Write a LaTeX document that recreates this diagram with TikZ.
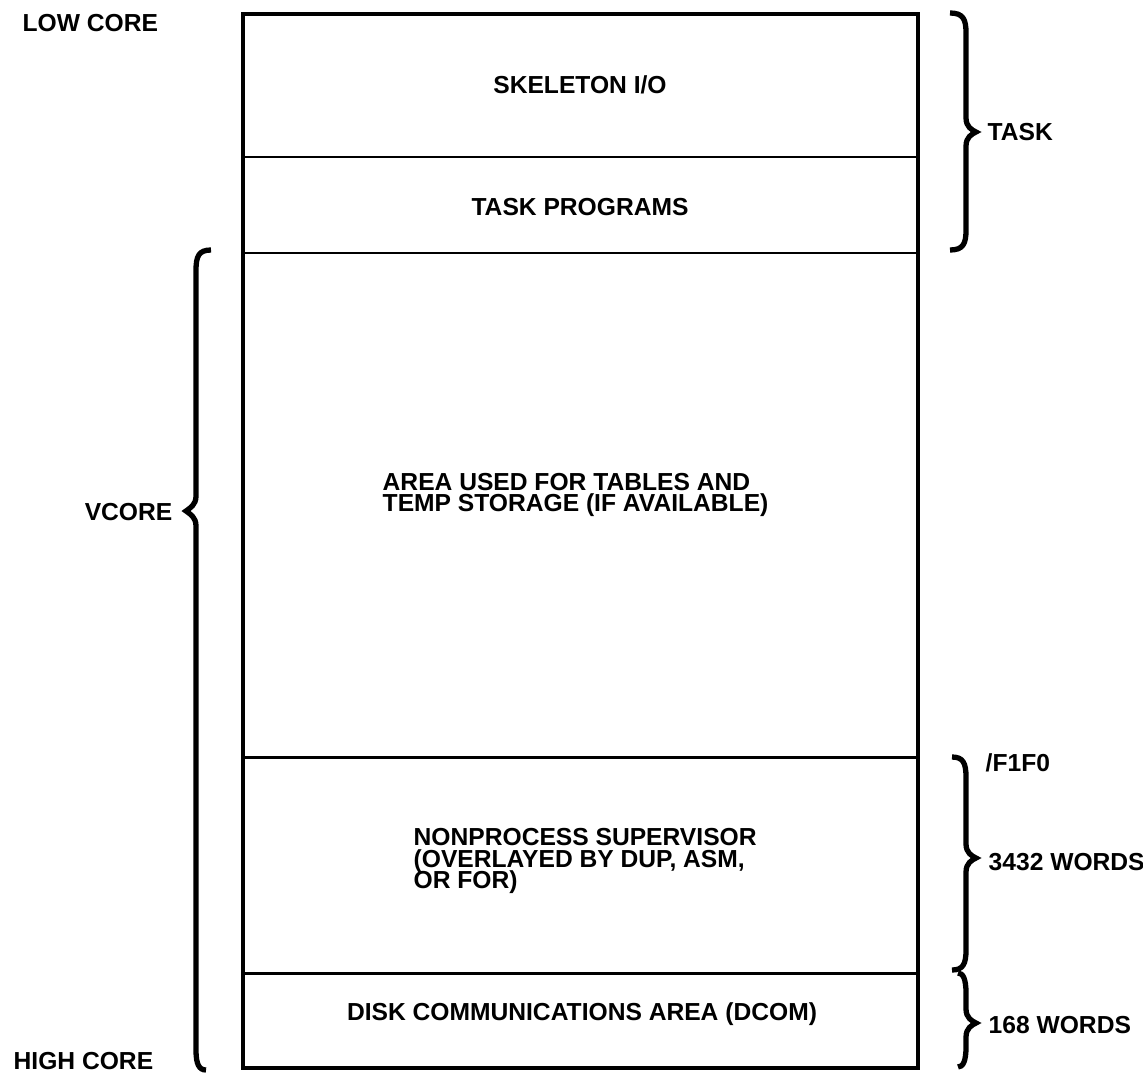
\documentclass[tikz,border=0pt]{standalone}
\usepackage{fontspec}
\setmainfont{Liberation Sans}
\tikzset{
  memtext/.style={inner sep=0pt, text height=5pt, text depth=0pt,
    font=\fontsize{7}{6}\selectfont\bfseries},
  memblock/.style={inner sep=0pt, align=left, anchor=north west,
    font=\fontsize{7}{6}\selectfont\bfseries},
  bracepen/.style={line width=1.5pt},
}
\begin{document}
\lineskiplimit=-10pt\relax
\begin{tikzpicture}[x=0.01cm, y=-0.01cm]
    \useasboundingbox (0,0) rectangle (1143,1073);

    %% =========================================================
    %% CORE MAP — left (243), right (918), top (14), bottom (1068)
    %% dividers at y = 157, 253, 757, 973
    %% =========================================================
    \draw[line width=1.1pt] (243,14) rectangle (918,1068);
    \foreach \dy in {157, 253, 757, 973}{
      \draw[line width=0.85pt] (243,\dy) -- (918,\dy);
    }

    \node[memtext] (skel)     at (580,85)   {SKELETON I/O};
    \node[memtext] (taskprog) at (580,207)  {TASK PROGRAMS};
    \node[memblock] (tables)  at (382,473)
      {AREA USED FOR TABLES AND\\TEMP STORAGE (IF AVAILABLE)};
    \node[memblock] (npsup)   at (413,828)
      {NONPROCESS SUPERVISOR\\(OVERLAYED BY DUP, ASM,\\OR FOR)};
    \node[memtext] (dcom)     at (582,1012) {DISK COMMUNICATIONS AREA (DCOM)};

    %% LEFT SIDE
    \node[memtext, anchor=west] (lowcore)  at (22,23)    {LOW CORE};
    \node[memtext, anchor=west] (highcore) at (13,1061)  {HIGH CORE};
    \node[memtext, anchor=east] (vcore)    at (173,512)  {VCORE};

    % vcore brace, tip off centre
    \draw[bracepen] (211,250) .. controls (199,250) and (196,256) .. (196,270)
      -- (196,496) .. controls (196,505) and (190,508) .. (186,511)
      .. controls (190,514) and (196,517) .. (196,526)
      -- (196,1050) .. controls (196,1064) and (199,1070) .. (206,1070);

    %% RIGHT SIDE
    \node[memtext, anchor=west] (task)    at (987,132)  {TASK};
    \node[memtext, anchor=west] (ftag)    at (985,763)  {/F1F0};
    \node[memtext, anchor=west] (npwords) at (988,862)  {3432 WORDS};
    \node[memtext, anchor=west] (dcwords) at (988,1025) {168 WORDS};

    % right braces: hook x / top / tip / bottom
    \foreach \xh/\ya/\yt/\yb in {950/13/132/250, 952/757/858/970, 958/973/1023/1067}{
      \draw[bracepen] (\xh,\ya) .. controls (963,\ya) and (966,\ya+6) .. (966,\ya+20)
        -- (966,\yt-14) .. controls (966,\yt-5) and (972,\yt-2) .. (976,\yt)
        .. controls (972,\yt+2) and (966,\yt+5) .. (966,\yt+14)
        -- (966,\yb-20) .. controls (966,\yb-6) and (963,\yb) .. (\xh,\yb);
    }

\end{tikzpicture}
\end{document}
